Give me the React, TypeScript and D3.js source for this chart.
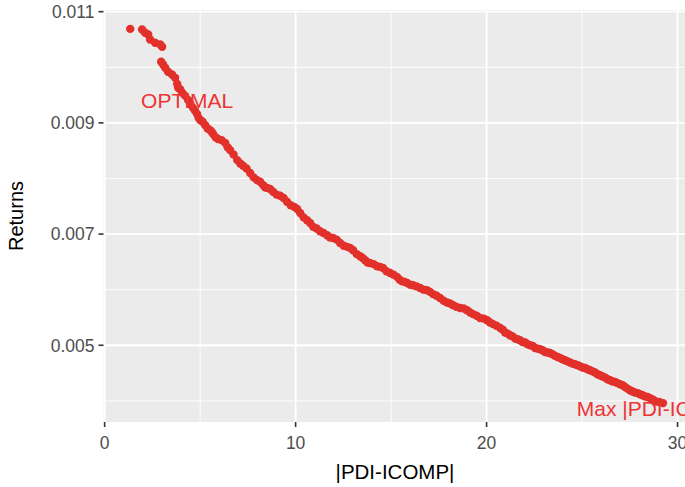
import React from "react";
import * as d3 from "d3";

// |PDI-ICOMP| values (x) and Returns (y)
const pdiGap = [
  1.34, 1.96, 2.12, 2.28, 2.38, 2.64, 2.91, 3.01, 2.96, 3.06, 3.17, 3.32, 3.53, 3.69, 3.8, 3.85, 3.96, 4.06, 4.21, 4.37,
  4.5, 4.63, 4.73, 4.84, 4.92, 5.0, 5.13, 5.26, 5.39, 5.52, 5.6, 5.68, 5.81, 5.94, 6.12, 6.31, 6.44, 6.57, 6.75, 6.94,
  7.1, 7.25, 7.43, 7.62, 7.8, 7.98, 8.14, 8.3, 8.4, 8.51, 8.66, 8.82, 9.0, 9.19, 9.37, 9.55, 9.74, 9.92, 10.08, 10.24,
  10.42, 10.6, 10.76, 10.92, 11.1, 11.28, 11.46, 11.65, 11.8, 11.96, 12.15, 12.33, 12.52, 12.7, 12.86, 13.01, 13.2,
  13.38, 13.51, 13.64, 13.77, 13.9, 14.08, 14.27, 14.42, 14.58, 14.76, 14.95, 15.13, 15.31, 15.45, 15.58, 15.71, 15.84,
  16.0, 16.15, 16.33, 16.52, 16.7, 16.88, 17.04, 17.2, 17.38, 17.56, 17.75, 17.93, 18.09, 18.25, 18.43, 18.61, 18.8,
  18.98, 19.14, 19.29, 19.48, 19.66, 19.85, 20.03, 20.18, 20.34, 20.52, 20.71, 20.85, 20.97, 21.1, 21.23, 21.36, 21.5,
  21.62, 21.75, 21.88, 22.02, 22.15, 22.28, 22.41, 22.54, 22.67, 22.8, 22.93, 23.06, 23.19, 23.32, 23.45, 23.58, 23.72,
  23.85, 23.98, 24.11, 24.24, 24.37, 24.5, 24.63, 24.77, 24.9, 25.03, 25.16, 25.29, 25.42, 25.55, 25.68, 25.81, 25.94,
  26.07, 26.2, 26.34, 26.47, 26.6, 26.73, 26.86, 26.99, 27.12, 27.25, 27.38, 27.51, 27.64, 27.77, 27.91, 28.04, 28.17,
  28.3, 28.43, 28.56, 28.72, 28.87, 29.05, 29.24,
];
const returns = [
  0.01069, 0.01068, 0.01062, 0.01059, 0.0105, 0.01044, 0.01041, 0.01037, 0.0101, 0.01005, 0.00999, 0.00992, 0.00987,
  0.00981, 0.0097, 0.00963, 0.0096, 0.00954, 0.00949, 0.00941, 0.00933, 0.00927, 0.00922, 0.00916, 0.00909, 0.00905,
  0.00902, 0.00896, 0.0089, 0.00887, 0.00884, 0.0088, 0.00874, 0.00871, 0.00869, 0.00864, 0.00856, 0.00851, 0.00843,
  0.00833, 0.00827, 0.00823, 0.00818, 0.0081, 0.00802, 0.00797, 0.00794, 0.00788, 0.00784, 0.00783, 0.00781, 0.00776,
  0.00771, 0.00769, 0.00765, 0.00758, 0.00752, 0.00749, 0.00745, 0.00738, 0.0073, 0.00725, 0.0072, 0.00713, 0.0071,
  0.00705, 0.00702, 0.00698, 0.00694, 0.00693, 0.0069, 0.00684, 0.00679, 0.00677, 0.00675, 0.00671, 0.00664, 0.0066,
  0.00657, 0.00653, 0.00649, 0.00648, 0.00646, 0.00642, 0.00641, 0.00639, 0.00633, 0.0063, 0.00627, 0.00623, 0.00618,
  0.00615, 0.00614, 0.00612, 0.00609, 0.00608, 0.00606, 0.00603, 0.006, 0.00599, 0.00596, 0.00592, 0.00589, 0.00585,
  0.0058, 0.00577, 0.00575, 0.00572, 0.00569, 0.00567, 0.00566, 0.00563, 0.00559, 0.00556, 0.00553, 0.00549, 0.00548,
  0.00545, 0.00541, 0.00538, 0.00535, 0.00531, 0.00528, 0.00523, 0.00521, 0.00518, 0.00516, 0.00512, 0.00511, 0.00509,
  0.00506, 0.00505, 0.00502, 0.005, 0.00499, 0.00495, 0.00494, 0.00493, 0.00491, 0.00488, 0.00487, 0.00486, 0.00484,
  0.00481, 0.00479, 0.00477, 0.00475, 0.00473, 0.00471, 0.00469, 0.00467, 0.00466, 0.00464, 0.00462, 0.0046, 0.00459,
  0.00457, 0.00455, 0.00453, 0.00451, 0.00448, 0.00446, 0.00444, 0.00442, 0.00439, 0.00437, 0.00435, 0.00434, 0.00432,
  0.0043, 0.00428, 0.00425, 0.00422, 0.00419, 0.00417, 0.00415, 0.00414, 0.00412, 0.0041, 0.00408, 0.00407, 0.00405,
  0.00402, 0.00399, 0.00398, 0.00396,
];

const xTicks = [0, 10, 20, 30];
const xMinor = [5, 15, 25];
const yTicks = [0.005, 0.007, 0.009, 0.011];
const yMinor = [0.004, 0.006, 0.008, 0.01];

const labelTexts = ["OPTIMAL", "Max |PDI-ICOMP|"];
const labelX = [4.32, 29.1];
const labelY = [0.00941, 0.00387];

const W = 685;
const H = 487;
const panel = { left: 103.5, right: 689, top: 10, bottom: 422 };
const FONT = "'Liberation Sans', Arial, sans-serif";

export default function App() {
  const x = d3.scaleLinear().domain([-0.06, 30.6]).range([panel.left, panel.right]);
  const y = d3.scaleLinear().domain([0.00362, 0.01103]).range([panel.bottom, panel.top]);
  const pts = pdiGap.map((v, i) => ({ x: v, y: returns[i] }));

  return (
    <svg
      width={W}
      height={H}
      style={{ position: "absolute", left: 0, top: 0, background: "#fff" }}
      fontFamily={FONT}
    >
      <rect x={panel.left} y={panel.top} width={panel.right - panel.left} height={panel.bottom - panel.top} fill="#ebebeb" />
      {yMinor.map((t) => (
        <line key={"ym" + t} x1={panel.left} x2={panel.right} y1={y(t)} y2={y(t)} stroke="#fff" strokeWidth={0.9} />
      ))}
      {xMinor.map((t) => (
        <line key={"xm" + t} y1={panel.top} y2={panel.bottom} x1={x(t)} x2={x(t)} stroke="#fff" strokeWidth={0.9} />
      ))}
      {yTicks.map((t) => (
        <line key={"yM" + t} x1={panel.left} x2={panel.right} y1={y(t)} y2={y(t)} stroke="#fff" strokeWidth={1.8} />
      ))}
      {xTicks.map((t) => (
        <line key={"xM" + t} y1={panel.top} y2={panel.bottom} x1={x(t)} x2={x(t)} stroke="#fff" strokeWidth={1.8} />
      ))}

      {pts.map((p, i) => (
        <circle key={i} cx={x(p.x)} cy={y(p.y)} r={4.2} fill="#e2302a" />
      ))}

      {labelTexts.map((t, i) => (
        <text
          key={t}
          x={x(labelX[i])}
          y={y(labelY[i])}
          dy="0.36em"
          textAnchor="middle"
          fontSize={21}
          fill="#ee3434"
        >
          {t}
        </text>
      ))}

      {/* y axis */}
      {yTicks.map((t) => (
        <g key={"yt" + t}>
          <line x1={panel.left - 5} x2={panel.left} y1={y(t)} y2={y(t)} stroke="#333" strokeWidth={1.6} />
          <text x={panel.left - 9} y={y(t)} dy="0.36em" textAnchor="end" fontSize={17.5} fill="#4d4d4d">
            {d3.format(".3f")(t)}
          </text>
        </g>
      ))}
      {/* x axis */}
      {xTicks.map((t) => (
        <g key={"xt" + t}>
          <line x1={x(t)} x2={x(t)} y1={panel.bottom} y2={panel.bottom + 5} stroke="#333" strokeWidth={1.6} />
          <text x={x(t)} y={panel.bottom + 27} textAnchor="middle" fontSize={17.5} fill="#4d4d4d">
            {t}
          </text>
        </g>
      ))}

      <text x={395} y={479} textAnchor="middle" fontSize={20.5} fill="#000">
        |PDI-ICOMP|
      </text>
      <text transform="translate(23,216) rotate(-90)" textAnchor="middle" fontSize={20} fill="#000">
        Returns
      </text>
    </svg>
  );
}
